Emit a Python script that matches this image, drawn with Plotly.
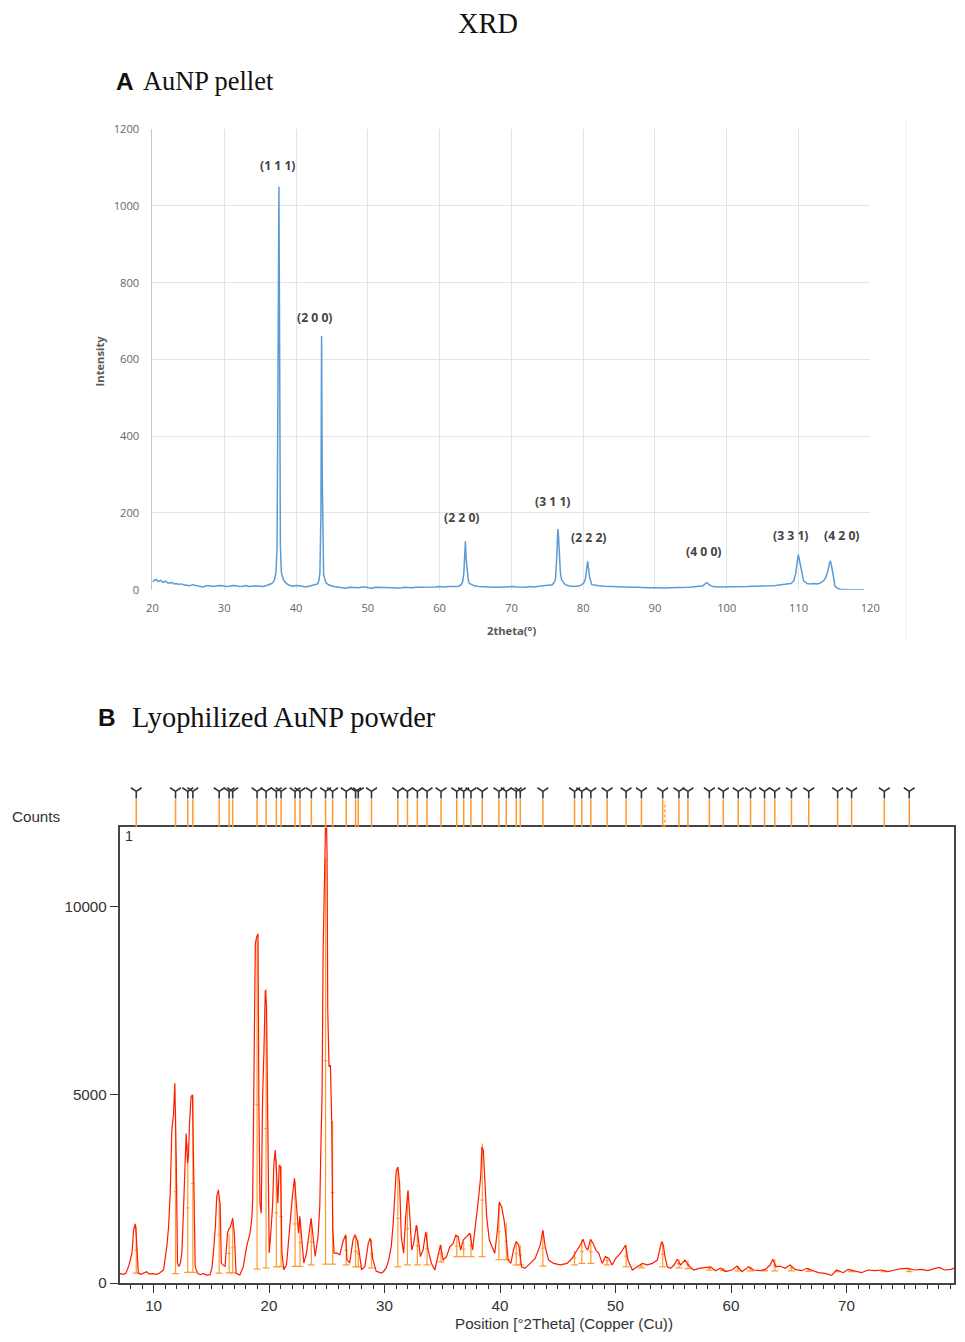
import plotly.graph_objects as go

W, H = 965, 1342
# measured page->picture mapping of this renderer (picture = offset + scale * figure)
SX, OX = 0.985, 5.3
SY, OY = 0.989, 6.8

# ---------------- Panel A data (AuNP pellet) ----------------
a_theta = [20.0, 20.3, 20.56, 20.8, 21.1, 21.5, 21.8, 22.1, 22.4, 22.7, 23.0, 23.3, 23.6, 24.0, 24.3, 24.7,
           25.0, 25.2, 25.6, 26.1, 26.5, 27.0, 27.5, 28.0, 28.4, 28.9, 29.3, 29.8, 30.2, 30.7, 31.2, 31.7,
           32.1, 32.6, 33.0, 33.5, 34.0, 34.4, 34.9, 35.4, 35.9, 36.3, 36.6, 36.8, 37.0, 37.2, 37.36, 37.5,
           37.62, 37.72, 37.82, 37.96, 38.24, 38.6, 39.0, 39.5, 40.0, 40.5, 41.0, 41.4, 41.8, 42.3, 42.7,
           43.0, 43.2, 43.33, 43.47, 43.56, 43.65, 43.75, 43.84, 44.2, 44.6, 45.1, 45.6, 46.0, 46.5, 46.9,
           47.4, 47.9, 48.3, 48.8, 49.2, 49.7, 50.1, 50.6, 51.1, 51.6, 52.0, 52.5, 53.0, 53.4, 54.0, 54.5,
           55.0, 55.6, 56.2, 56.7, 57.2, 57.7, 58.2, 58.8, 59.4, 60.0, 60.6, 61.2, 61.8, 62.3, 62.7, 63.0,
           63.2, 63.37, 63.5, 63.6, 63.7, 63.83, 64.0, 64.15, 64.5, 64.85, 65.4, 66.0, 66.5, 67.0, 67.6,
           68.3, 68.9, 69.5, 70.2, 70.8, 71.4, 72.0, 72.6, 73.2, 73.8, 74.4, 75.0, 75.4, 75.7, 76.0, 76.15,
           76.34, 76.47, 76.56, 76.66, 76.84, 77.0, 77.2, 77.5, 78.0, 78.5, 79.0, 79.5, 79.8, 80.1, 80.3,
           80.5, 80.63, 80.75, 80.9, 81.2, 81.7, 82.2, 83.0, 83.8, 84.5, 85.3, 86.0, 86.8, 87.5, 88.3,
           89.1, 90.0, 90.7, 91.4, 92.2, 93.0, 93.7, 94.5, 95.2, 96.0, 96.7, 97.1, 97.3, 97.5, 98.1, 98.8,
           99.7, 100.5, 101.3, 102.1, 102.9, 103.7, 104.4, 105.2, 106.0, 106.8, 107.5, 108.2, 108.9, 109.3,
           109.6, 109.8, 109.98, 110.15, 110.3, 110.5, 110.7, 111.2, 111.7, 112.2, 112.6, 113.0, 113.5,
           113.8, 114.1, 114.3, 114.45, 114.6, 114.8, 114.95, 115.05, 115.4, 115.8, 116.5, 117.2, 118.0,
           118.6, 119.1]
a_int = [20, 25, 26, 21, 24, 19, 22, 18, 17, 19, 15, 16, 14, 15, 13, 12,
         11, 10, 13, 11, 9, 7, 10, 10, 8, 9, 11, 10, 8, 9, 11, 10,
         8, 9, 11, 8, 10, 10, 9, 8, 11, 13, 16, 19, 26, 44, 113, 600,
         1050, 600, 113, 44, 26, 17, 12, 9, 11, 10, 8, 7, 9, 11, 12,
         15, 25, 44, 200, 661, 300, 100, 39, 17, 12, 9, 8, 7, 6, 4,
         6, 6, 5, 5, 7, 7, 5, 4, 6, 6, 5, 6, 5, 5, 4, 4,
         6, 5, 5, 6, 6, 7, 6, 7, 7, 8, 7, 8, 7, 8, 9, 13,
         20, 41, 90, 126, 80, 49, 25, 16, 12, 10, 8, 7, 6, 7, 6,
         6, 7, 7, 8, 7, 6, 6, 8, 7, 9, 10, 10, 12, 13, 20, 28,
         93, 158, 140, 110, 41, 25, 19, 13, 10, 8, 9, 10, 13, 18, 28,
         55, 74, 55, 32, 13, 11, 10, 9, 8, 8, 7, 7, 6, 6, 5,
         5, 5, 4, 4, 5, 5, 6, 6, 7, 8, 10, 17, 18, 13, 8, 7,
         7, 8, 7, 8, 8, 9, 9, 10, 10, 11, 13, 14, 16, 22,
         41, 70, 91, 75, 58, 38, 23, 16, 15, 16, 15, 17, 23,
         32, 49, 68, 75, 62, 45, 25, 10, 4, 1, 0, 0, 0,
         0, 0]

a_labels = ["(1 1 1)", "(2 0 0)", "(2 2 0)", "(3 1 1)", "(2 2 2)", "(4 0 0)", "(3 3 1)", "(4 2 0)"]
a_label_x = [37.5, 42.7, 63.1, 75.8, 80.8, 96.8, 109.0, 116.1]
a_label_y = [1104, 708, 187, 229, 135, 99, 141, 141]

# ---------------- Panel B data (Lyophilized AuNP powder) ----------------
b_theta = [7.05, 7.12, 7.40, 7.60, 7.84, 8.00, 8.13, 8.27, 8.42, 8.50, 8.56, 8.62, 8.68, 8.90, 9.10, 9.40,
           9.60, 9.90, 10.20, 10.50, 10.86, 11.00, 11.15, 11.30, 11.44, 11.58, 11.73, 11.84, 11.90, 11.96,
           12.07, 12.19, 12.30, 12.45, 12.55, 12.65, 12.82, 12.94, 13.02, 13.11, 13.25, 13.37, 13.45, 13.52,
           13.60, 13.80, 14.03, 14.30, 14.60, 14.90, 15.05, 15.18, 15.35, 15.47, 15.61, 15.70, 15.76, 15.87,
           16.00, 16.19, 16.30, 16.40, 16.55, 16.62, 16.75, 16.85, 16.99, 17.14, 17.30, 17.48, 17.77, 18.06,
           18.35, 18.50, 18.58, 18.69, 18.81, 18.92, 19.04, 19.12, 19.21, 19.32, 19.44, 19.55, 19.67, 19.78,
           19.90, 20.01, 20.13, 20.30, 20.42, 20.53, 20.65, 20.76, 20.88, 20.99, 21.11, 21.28, 21.51, 21.65,
           21.80, 22.03, 22.20, 22.32, 22.43, 22.55, 22.66, 22.81, 23.01, 23.24, 23.47, 23.64, 23.81, 23.99,
           24.24, 24.39, 24.50, 24.59, 24.68, 24.79, 24.91, 24.96, 25.02, 25.08, 25.19, 25.31, 25.42, 25.51,
           25.63, 25.88, 26.12, 26.40, 26.63, 26.75, 26.98, 27.27, 27.44, 27.61, 27.78, 28.01, 28.30, 28.59,
           28.76, 28.99, 29.28, 29.50, 29.71, 29.90, 30.14, 30.35, 30.58, 30.75, 30.87, 31.01, 31.16, 31.30,
           31.45, 31.65, 31.83, 32.03, 32.17, 32.35, 32.52, 32.75, 32.90, 33.10, 33.33, 33.57, 33.77, 34.06,
           34.35, 34.64, 34.84, 35.07, 35.36, 35.65, 35.94, 36.17, 36.38, 36.58, 36.81, 37.10, 37.39, 37.62,
           37.91, 38.12, 38.32, 38.43, 38.55, 38.67, 38.84, 39.07, 39.30, 39.54, 39.77, 39.94, 40.14, 40.35,
           40.52, 40.70, 40.93, 41.16, 41.39, 41.62, 41.86, 42.17, 42.61, 43.04, 43.48, 43.71, 43.91, 44.20,
           44.64, 45.22, 45.80, 46.23, 46.67, 46.96, 47.19, 47.39, 47.59, 47.83, 48.06, 48.29, 48.55, 48.84,
           49.13, 49.42, 49.71, 50.00, 50.43, 50.72, 50.87, 51.07, 51.45, 51.88, 52.32, 52.75, 53.19, 53.62,
           53.82, 53.99, 54.14, 54.28, 54.48, 54.77, 55.06, 55.34, 55.63, 56.01, 56.35, 56.78, 57.21, 57.79,
           58.22, 58.65, 59.08, 59.51, 60.09, 60.52, 60.95, 61.52, 61.95, 62.53, 62.96, 63.39, 63.62, 63.88,
           64.25, 64.68, 65.11, 65.55, 66.12, 66.55, 66.98, 67.56, 68.13, 68.71, 69.14, 69.71, 70.14, 70.72,
           71.29, 71.87, 72.44, 73.02, 73.59, 74.17, 74.74, 75.32, 75.89, 76.47, 77.04, 77.61, 78.05, 78.48,
           79.05, 79.48, 79.95]
b_counts = [240, 247, 230, 260, 440, 620, 795, 1410, 1570, 1250, 970, 600, 265, 230, 250, 300,
            240, 250, 230, 260, 350, 600, 970, 1500, 2380, 4060, 4500, 5300, 4600, 3270,
            530, 440, 500, 795, 1600, 2560, 3970, 3180, 3360, 4240, 4950, 4990, 2870, 1200,
            440, 260, 220, 250, 210, 220, 400, 795, 1500, 2300, 2470, 2200, 2120, 530,
            480, 440, 900, 1325, 1460, 1460, 1600, 1720, 1325, 265, 230, 220, 440, 970,
            1325, 1700, 2210, 5030, 9000, 9180, 9270, 4680, 2120, 1850, 4940, 6090, 7770, 7330,
            3890, 795, 1240, 2030, 3180, 3530, 2910, 2120, 3130, 3090, 795, 350, 485, 1000,
            1680, 2340, 2780, 2210, 1770, 1325, 1770, 1240, 530, 795, 1370, 1720, 1240, 705,
            1240, 2030, 3800, 5030, 8830, 11300, 12500, 12500, 11390, 7240, 5740, 5780, 4330, 1500,
            795, 795, 750, 1100, 1280, 620, 530, 1150, 1280, 1150, 880, 350, 440, 1060,
            1190, 620, 310, 290, 265, 300, 400, 600, 970, 1600, 2290, 2990, 3080, 2640,
            1230, 790, 1760, 2460, 1850, 875, 1050, 1540, 1230, 700, 875, 1360, 875, 520,
            345, 700, 1010, 610, 700, 960, 1050, 1270, 1230, 875, 1140, 1230, 1320, 875,
            1580, 2200, 2820, 3610, 3520, 2730, 1760, 1140, 960, 790, 1400, 2150, 2020, 1670,
            1230, 610, 520, 875, 1100, 1010, 430, 390, 520, 650, 1010, 1400, 960, 610,
            520, 480, 520, 650, 875, 1010, 1160, 960, 875, 1160, 1050, 875, 790, 520,
            700, 650, 480, 650, 790, 960, 1010, 610, 345, 430, 520, 480, 520, 610,
            875, 1095, 1000, 700, 430, 390, 477, 630, 477, 610, 450, 345, 390, 415,
            430, 327, 390, 300, 345, 450, 300, 430, 345, 327, 362, 477, 630, 430,
            450, 390, 477, 362, 327, 390, 345, 274, 256, 203, 345, 274, 362, 327,
            274, 345, 327, 345, 300, 345, 380, 390, 345, 362, 327, 380, 415, 345,
            362, 415, 327]

# reference peak list (position, top intensity, background level)
ref_pos = [8.50, 11.90, 12.96, 13.40, 15.68, 16.54, 16.85, 18.96, 19.74, 20.63, 21.04, 22.25, 22.68, 23.66,
           24.89, 25.50, 26.68, 27.49, 27.72, 28.87, 31.15, 31.98, 32.84, 33.68, 34.89, 36.25, 36.85, 37.48,
           38.46, 39.90, 40.54, 41.40, 41.75, 43.71, 46.45, 47.08, 47.86, 49.27, 50.91, 52.24, 54.08, 55.49,
           56.27, 58.12, 59.33, 60.62, 61.69, 62.90, 63.79, 65.23, 66.73, 69.23, 70.44, 73.27, 75.43]
ref_top = [1500, 4600, 3700, 4990, 2300, 1300, 1600, 9100, 7800, 3300, 3100, 2700, 1700, 1700,
           11300, 4300, 1250, 1250, 1150, 1150, 3000, 2400, 1500, 1350, 1000, 1250, 1100, 1300,
           3700, 2100, 1600, 1100, 1000, 1400, 850, 1150, 1150, 700, 1000, 500, 1100, 630,
           600, 430, 400, 450, 430, 360, 630, 480, 390, 345, 360, 345, 390]
ref_base = [260, 250, 280, 280, 260, 270, 270, 370, 400, 430, 430, 440, 440, 480,
            500, 500, 480, 430, 430, 400, 430, 480, 480, 480, 560, 700, 700, 700,
            700, 620, 620, 480, 480, 450, 480, 520, 520, 480, 430, 400, 430, 400,
            380, 340, 330, 320, 320, 320, 320, 320, 310, 300, 300, 300, 300]
ref_dashed = [54.28]

b_xticks = [10, 20, 30, 40, 50, 60, 70]
b_yticks = [0, 5000, 10000]
b_xrange = [7.05, 79.32]


def px(p):
    return min(1.0, max(0.0, (p - OX) / SX / W))


def py(p):
    return min(1.0, max(0.0, 1 - (p - OY) / SY / H))


def fs(s):
    return round(s / SX, 1)


ORANGE = '#ff9a2e'

fig = go.Figure()

# Panel A
fig.add_trace(go.Scatter(x=a_theta, y=a_int, mode='lines', line=dict(color='#5b9bd5', width=1.5),
                         xaxis='x', yaxis='y', showlegend=False, hoverinfo='skip'))

# Panel B: reference sticks inside the plot
sx, sy = [], []
for p, t, b in zip(ref_pos, ref_top, ref_base):
    m = (t + b) / 2
    sx += [p, p, None, p - 0.3, p + 0.3, None, p - 0.15, p + 0.15, None]
    sy += [b, t, None, b, b, None, m, m, None]
fig.add_trace(go.Scatter(x=sx, y=sy, mode='lines', line=dict(color=ORANGE, width=1.2),
                         xaxis='x2', yaxis='y2', showlegend=False, hoverinfo='skip'))
fig.add_trace(go.Scatter(x=b_theta, y=b_counts, mode='lines', line=dict(color='#ff1a00', width=1.2),
                         xaxis='x2', yaxis='y2', showlegend=False, hoverinfo='skip'))

# Marker strip above panel B
lx, ly = [], []
for p in ref_pos:
    lx += [p, p, None]
    ly += [0, 0.64, None]
fig.add_trace(go.Scatter(x=lx, y=ly, mode='lines', line=dict(color=ORANGE, width=1.5),
                         xaxis='x3', yaxis='y3', showlegend=False, hoverinfo='skip'))
dx, dy = [], []
for p in ref_dashed:
    dx += [p, p, None]
    dy += [0, 0.58, None]
fig.add_trace(go.Scatter(x=dx, y=dy, mode='lines', line=dict(color=ORANGE, width=1.3, dash='3px,2px'),
                         xaxis='x3', yaxis='y3', showlegend=False, hoverinfo='skip'))
fig.add_trace(go.Scatter(x=ref_pos, y=[0.82] * len(ref_pos), mode='markers',
                         marker=dict(symbol='y-down', size=9, color='#333333',
                                     line=dict(color='#333333', width=1.6)),
                         xaxis='x3', yaxis='y3', showlegend=False, hoverinfo='skip'))

grid_c = '#e4e4e4'
fig.update_layout(
    width=W, height=H, margin=dict(l=0, r=0, t=0, b=0),
    paper_bgcolor='white', plot_bgcolor='white',
    xaxis=dict(domain=[px(152), px(871)], anchor='y', range=[20, 120], dtick=10, tick0=20,
               showgrid=True, gridcolor=grid_c, gridwidth=1, zeroline=False, showline=False,
               ticks='', ticklabelstandoff=10,
               tickfont=dict(family='Open Sans', size=fs(11), color='#666666')),
    yaxis=dict(domain=[py(589), py(128)], anchor='x', range=[0, 1200], dtick=200,
               showgrid=True, gridcolor=grid_c, gridwidth=1, zeroline=False,
               showline=True, linecolor='#c8c8c8', linewidth=1, ticks='',
               ticklabelstandoff=10,
               tickfont=dict(family='Open Sans', size=fs(11), color='#666666')),
    xaxis2=dict(domain=[px(119), px(955)], anchor='y2', range=b_xrange,
                tickvals=b_xticks, ticks='outside', ticklen=8, tickwidth=1.3, tickcolor='#333333',
                minor=dict(dtick=1, tick0=0, ticks='outside', ticklen=4, tickwidth=1, tickcolor='#333333'),
                showgrid=False, zeroline=False, showline=True, mirror=True,
                linecolor='#444444', linewidth=1.5,
                tickfont=dict(family='Liberation Sans', size=fs(15), color='#333333')),
    yaxis2=dict(domain=[py(1283), py(827)], anchor='x2', range=[0, 12090],
                tickvals=b_yticks, ticktext=[str(v) for v in b_yticks],
                ticks='outside', ticklen=8, tickwidth=1.3, tickcolor='#333333',
                showgrid=False, zeroline=False, showline=True, mirror=True,
                linecolor='#444444', linewidth=1.5,
                tickfont=dict(family='Liberation Sans', size=fs(15), color='#333333')),
    xaxis3=dict(domain=[px(119), px(955)], anchor='y3', matches='x2', visible=False),
    yaxis3=dict(domain=[py(827), py(783)], anchor='x3', range=[0, 1], visible=False),
)

ann = []
# Titles and panel headers
ann.append(dict(x=px(488), y=py(22), text='XRD',
                font=dict(family='Liberation Serif', size=fs(28), color='#111111')))
ann.append(dict(x=px(113), y=py(80), text='<b>A</b>', xanchor='left',
                font=dict(family='Liberation Sans', size=fs(24), color='#111111')))
ann.append(dict(x=px(141), y=py(80), text='AuNP pellet', xanchor='left',
                font=dict(family='Liberation Serif', size=fs(26), color='#111111')))
ann.append(dict(x=px(95), y=py(717), text='<b>B</b>', xanchor='left',
                font=dict(family='Liberation Sans', size=fs(24), color='#111111')))
ann.append(dict(x=px(130), y=py(717), text='Lyophilized AuNP powder', xanchor='left',
                font=dict(family='Liberation Serif', size=fs(28), color='#111111')))
# Panel A axis titles
ann.append(dict(x=px(99), y=py(360), text='<b>Intensity</b>', textangle=-90,
                font=dict(family='Open Sans', size=fs(11), color='#595959')))
ann.append(dict(x=px(512), y=py(630), text='<b>2theta(°)</b>',
                font=dict(family='Open Sans', size=fs(11), color='#595959')))
# Panel A peak labels
for t, x, y in zip(a_labels, a_label_x, a_label_y):
    ann.append(dict(x=x, y=y, xref='x', yref='y', text='<b>' + t + '</b>',
                    font=dict(family='Open Sans', size=fs(12), color='#454545')))
# Panel B labels
ann.append(dict(x=px(36), y=py(816), text='Counts',
                font=dict(family='Liberation Sans', size=fs(15), color='#333333')))
ann.append(dict(x=px(128), y=py(836), text='1',
                font=dict(family='Liberation Sans', size=fs(14), color='#333333')))
ann.append(dict(x=px(564), y=0, text='Position [°2Theta] (Copper (Cu))', yanchor='bottom',
                font=dict(family='Liberation Sans', size=fs(15), color='#333333')))

for a in ann:
    a.setdefault('xref', 'paper')
    a.setdefault('yref', 'paper')
    a.setdefault('showarrow', False)
    a.setdefault('xanchor', 'center')
    a.setdefault('yanchor', 'middle')
fig.update_layout(annotations=ann)

# faint border of the embedded chart image (panel A)
fig.add_shape(type='line', xref='paper', yref='paper', x0=px(907), x1=px(907), y0=py(640), y1=py(117),
              line=dict(color='#f0f0f0', width=1))

fig.write_html('out.html')
